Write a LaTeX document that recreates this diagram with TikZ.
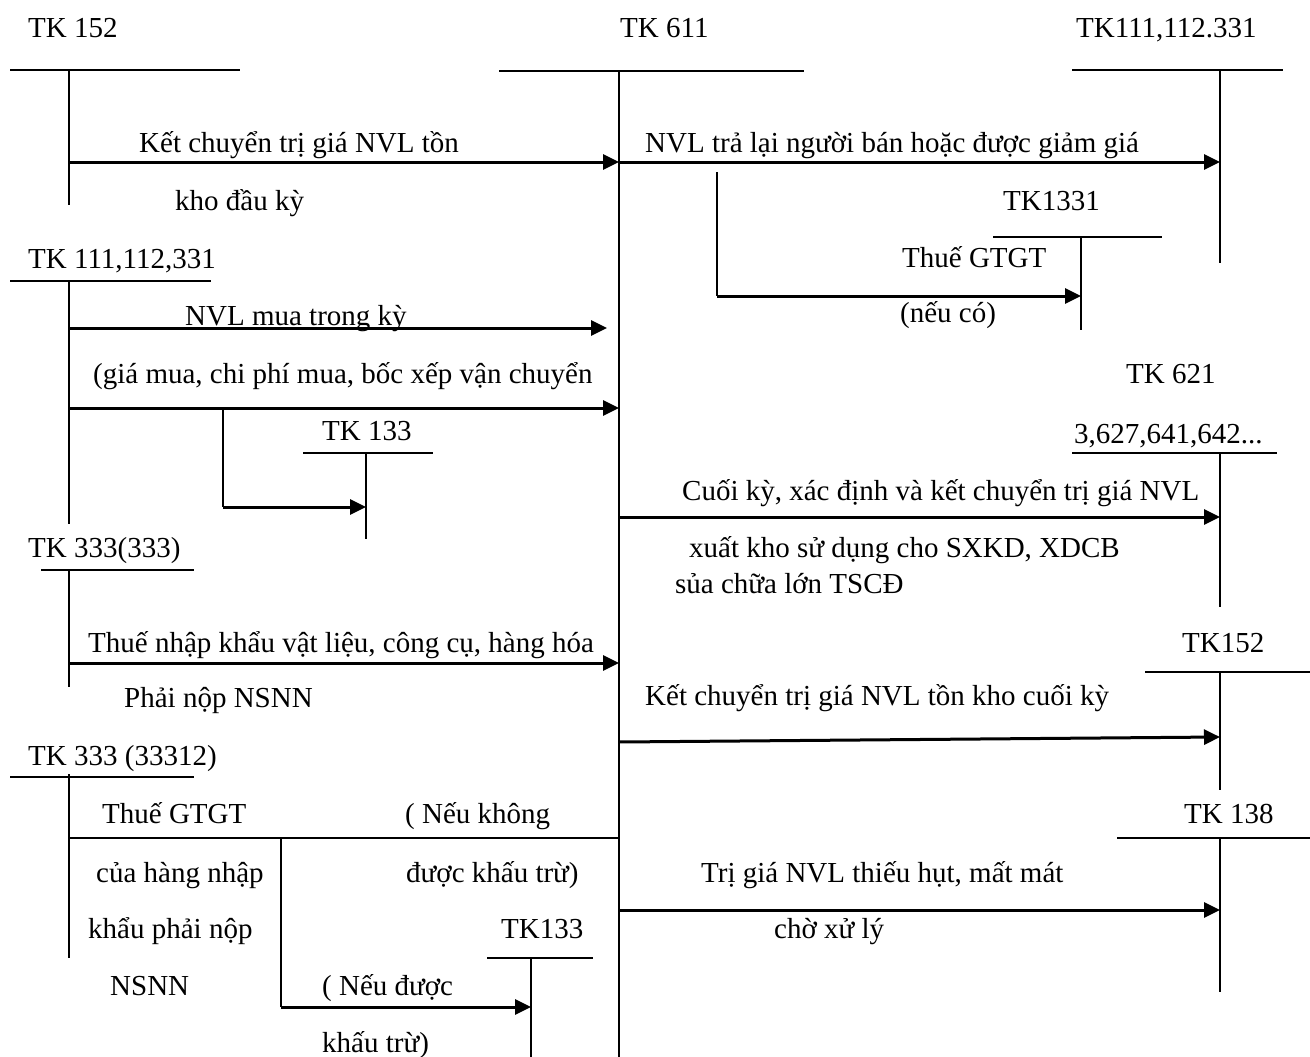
\documentclass[tikz,border=0pt]{standalone}
\usepackage{fontspec}
\setmainfont{Liberation Serif}
\usetikzlibrary{arrows.meta}
\begin{document}
\begin{tikzpicture}[x=1pt,y=-1pt,
  axis/.style={line width=1.7pt},
  thin/.style={line width=1.9pt},
  flow/.style={line width=3pt,-{Triangle[length=16pt,width=15pt]}},
  plainflow/.style={line width=2.3pt},
  lbl/.style={anchor=base west,inner sep=0pt,font=\fontsize{29}{34}\selectfont}]
\useasboundingbox (0,0) rectangle (1310,1057);
% ---------- account coordinates ----------
\coordinate (k152L) at (10,70);   \coordinate (k152R) at (240,70);
\coordinate (k152T) at (69,70);   \coordinate (k152B) at (69,205);
\coordinate (k611L) at (499,71);  \coordinate (k611R) at (804,71);
\coordinate (k611T) at (619,71);  \coordinate (k611B) at (619,1057);
\coordinate (kRL) at (1072,70);   \coordinate (kRR) at (1283,70);
\coordinate (kRT) at (1220,70);   \coordinate (kRB) at (1220,263);
\coordinate (k1331L) at (993,237); \coordinate (k1331R) at (1162,237);
\coordinate (k1331T) at (1081,237); \coordinate (k1331B) at (1081,330);
\coordinate (k111L) at (10,281);  \coordinate (k111R) at (211,281);
\coordinate (k111T) at (69,281);  \coordinate (k111B) at (69,524);
\coordinate (k133aL) at (303,453); \coordinate (k133aR) at (433,453);
\coordinate (k133aT) at (366,453); \coordinate (k133aB) at (366,539);
\coordinate (k333L) at (41,570);  \coordinate (k333R) at (194,570);
\coordinate (k333T) at (69,570);  \coordinate (k333B) at (69,687);
\coordinate (k621L) at (1072,453); \coordinate (k621R) at (1277,453);
\coordinate (k621T) at (1220,453); \coordinate (k621B) at (1220,607);
\coordinate (k152rL) at (1145,672); \coordinate (k152rR) at (1310,672);
\coordinate (k152rT) at (1220,672); \coordinate (k152rB) at (1220,790);
\coordinate (k138L) at (1117,838); \coordinate (k138R) at (1310,838);
\coordinate (k138T) at (1220,838); \coordinate (k138B) at (1220,992);
\coordinate (k3331L) at (10,777); \coordinate (k3331R) at (194,777);
\coordinate (k3331T) at (69,774); \coordinate (k3331B) at (69,958);
\coordinate (k133bL) at (487,958); \coordinate (k133bR) at (593,958);
\coordinate (k133bT) at (531,958); \coordinate (k133bB) at (531,1057);
% ---------- T-accounts ----------
\foreach \k in {k152,k611,kR,k1331,k111,k133a,k333,k621,k152r,k138,k3331,k133b}{
  \draw[axis] (\k L) -- (\k R);
  \draw[axis] (\k T) -- (\k B);
}
% ---------- account labels ----------
\node[lbl] (n152) at (28,38) {TK 152};
\node[lbl] (n611) at (620,38) {TK 611};
\node[lbl] (nR) at (1076,38) {TK111,112.331};
\node[lbl] (n1331) at (1003,210) {TK1331};
\node[lbl] (n111) at (28,268) {TK 111,112,331};
\node[lbl] (n133a) at (322,440) {TK 133};
\node[lbl] (n333) at (28,557) {TK 333(333)};
\node[lbl] (n621) at (1126,383) {TK 621};
\node[lbl] (n621b) at (1074,443) {3,627,641,642...};
\node[lbl] (n152r) at (1182,652) {TK152};
\node[lbl] (n138) at (1184,823) {TK 138};
\node[lbl] (n3331) at (28,765) {TK 333 (33312)};
\node[lbl] (n133b) at (501,938) {TK133};
% ---------- flow points ----------
\coordinate (a1s) at (69,162);  \coordinate (a1e) at (619,162);
\coordinate (a2e) at (1220,162);
\coordinate (b2s) at (717,172); \coordinate (b2m) at (717,296); \coordinate (b2e) at (1081,296);
\coordinate (a3s) at (69,328);  \coordinate (a3e) at (607,328);
\coordinate (a4s) at (69,408);  \coordinate (a4e) at (619,408);
\coordinate (b4s) at (223,408); \coordinate (b4m) at (223,507); \coordinate (b4e) at (366,507);
\coordinate (a5s) at (69,663);  \coordinate (a5e) at (619,663);
\coordinate (a6s) at (619,517); \coordinate (a6e) at (1220,517);
\coordinate (a7s) at (619,742); \coordinate (a7e) at (1220,737);
\coordinate (a8s) at (619,910); \coordinate (a8e) at (1220,910);
\coordinate (l9s) at (69,838);  \coordinate (l9e) at (619,838);
\coordinate (b9s) at (281,838); \coordinate (b9m) at (281,1007); \coordinate (b9e) at (531,1007);
% ---------- flows ----------
\draw[flow] (a1s) -- (a1e);
\draw[flow] (a1e) -- (a2e);
\draw[thin] (b2s) -- (b2m);
\draw[flow] (b2m) -- (b2e);
\draw[flow] (a3s) -- (a3e);
\draw[flow] (a4s) -- (a4e);
\draw[thin] (b4s) -- (b4m);
\draw[flow] (b4m) -- (b4e);
\draw[flow] (a5s) -- (a5e);
\draw[flow] (a6s) -- (a6e);
\draw[flow] (a7s) -- (a7e);
\draw[flow] (a8s) -- (a8e);
\draw[plainflow] (l9s) -- (l9e);
\draw[thin] (b9s) -- (b9m);
\draw[flow] (b9m) -- (b9e);
% ---------- flow texts ----------
\node[lbl] (t1a) at (139,152) {Kết chuyển trị giá NVL tồn};
\node[lbl] (t1b) at (175,210) {kho đầu kỳ};
\node[lbl] (t2) at (645,152) {NVL trả lại người bán hoặc được giảm giá};
\node[lbl] (t2a) at (902,267) {Thuế GTGT};
\node[lbl] (t2b) at (900,322) {(nếu có)};
\node[lbl] (t3) at (185,325) {NVL mua trong kỳ};
\node[lbl] (t4) at (93,383) {(giá mua, chi phí mua, bốc xếp vận chuyển};
\node[lbl] (t5a) at (88,652) {Thuế nhập khẩu vật liệu, công cụ, hàng hóa};
\node[lbl] (t5b) at (124,707) {Phải nộp NSNN};
\node[lbl] (t6a) at (682,500) {Cuối kỳ, xác định và kết chuyển trị giá NVL};
\node[lbl] (t6b) at (689,557) {xuất kho sử dụng cho SXKD, XDCB};
\node[lbl] (t6c) at (675,593) {sủa chữa lớn TSCĐ};
\node[lbl] (t7) at (645,705) {Kết chuyển trị giá NVL tồn kho cuối kỳ};
\node[lbl] (t8a) at (701,882) {Trị giá NVL thiếu hụt, mất mát};
\node[lbl] (t8b) at (774,938) {chờ xử lý};
\node[lbl] (t9a) at (102,823) {Thuế GTGT};
\node[lbl] (t9b) at (96,882) {của hàng nhập};
\node[lbl] (t9c) at (88,938) {khẩu phải nộp};
\node[lbl] (t9d) at (110,995) {NSNN};
\node[lbl] (t9e) at (405,823) {( Nếu không};
\node[lbl] (t9f) at (406,882) {được khấu trừ)};
\node[lbl] (t9g) at (322,995) {( Nếu được};
\node[lbl] (t9h) at (322,1052) {khấu trừ)};
\end{tikzpicture}
\end{document}
